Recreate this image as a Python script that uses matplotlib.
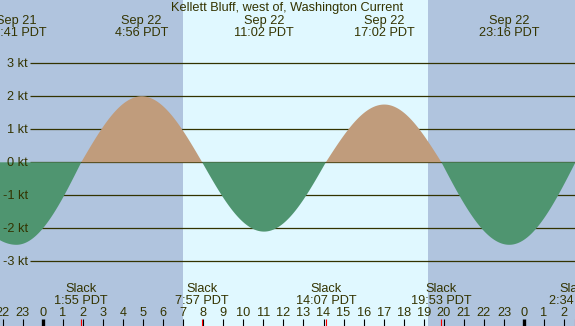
import matplotlib.pyplot as plt
import numpy as np

# Tide current events, hours from Sep 22 00:00 PDT, speed in knots
event_hours = [-5.15, -1.317, 1.917, 4.933, 7.95, 11.033, 14.117, 17.033, 19.883, 23.267, 26.567, 29.6]
event_kt = [0.0, -2.5, 0.0, 2.0, 0.0, -2.1, 0.0, 1.75, 0.0, -2.5, 0.0, 1.8]

# labelled extremes at the top
peak_hours = [-1.317, 4.933, 11.033, 17.033, 23.267]
peak_dates = ['Sep 21', 'Sep 22', 'Sep 22', 'Sep 22', 'Sep 22']
peak_times = ['22:41 PDT', '4:56 PDT', '11:02 PDT', '17:02 PDT', '23:16 PDT']

# slack water labels at the bottom
slack_hours = [1.917, 7.95, 14.117, 19.883, 26.567]
slack_times = ['1:55 PDT', '7:57 PDT', '14:07 PDT', '19:53 PDT', '2:34 PDT']

sunrise = 7.0
sunset = 19.21
grid_kt = [3, 2, 1, 0, -1, -2, -3]
hour_ticks = list(range(-2, 27))

# colours
night_col = '#b0c4de'
day_col = '#e0f8ff'
flood_col = '#c09c7c'
ebb_col = '#4f9570'
ink = '#333300'

# pixel geometry -> data limits
px_per_h = 20.05
x0_px = 42.8
px_per_kt = 33.0
y0_px = 162.3
W, H = 575, 326
xlim = (-x0_px / px_per_h, (W - x0_px) / px_per_h)
ylim = (-(H - y0_px) / px_per_kt, y0_px / px_per_kt)

def px_h(x):
    return (x - x0_px) / px_per_h

def px_kt(y):
    return (y0_px - y) / px_per_kt

# curve: quarter sine from slack to extreme and back
t = np.linspace(xlim[0] - 0.1, xlim[1] + 0.1, 1500)
v = np.zeros_like(t)
for i in range(len(event_hours) - 1):
    a, b = event_hours[i], event_hours[i + 1]
    va, vb = event_kt[i], event_kt[i + 1]
    m = (t >= a) & (t <= b)
    f = (t[m] - a) / (b - a)
    if va == 0:
        v[m] = vb * np.sin(np.pi / 2 * f)
    else:
        v[m] = va * np.cos(np.pi / 2 * f)

plt.rcParams['font.family'] = ['Liberation Sans', 'DejaVu Sans']
fs = 9.2
fig = plt.figure(figsize=(W / 100, H / 100), dpi=100)
ax = fig.add_axes([0, 0, 1, 1])
ax.set_xlim(*xlim)
ax.set_ylim(*ylim)
ax.set_axis_off()

# night / day background
ax.axvspan(xlim[0], sunrise, color=night_col, lw=0, zorder=0)
ax.axvspan(sunrise, sunset, color=day_col, lw=0, zorder=0)
ax.axvspan(sunset, xlim[1], color=night_col, lw=0, zorder=0)

# grid lines and labels
ax.hlines(grid_kt, px_h(30), xlim[1], color=ink, lw=0.9, zorder=1)
for k in grid_kt:
    ax.text(px_h(28), k - 4 / px_per_kt, f'{k} kt', ha='right', va='baseline',
            fontsize=fs, color=ink)

# current fill
ax.fill_between(t, v, 0, where=v >= 0, interpolate=True, color=flood_col, lw=0, zorder=2)
ax.fill_between(t, v, 0, where=v <= 0, interpolate=True, color=ebb_col, lw=0, zorder=2)

# title and top labels
ax.text(px_h(287), px_kt(11), 'Kellett Bluff, west of, Washington Current',
        ha='center', va='baseline', fontsize=fs, color=ink)
for h, d, s in zip(peak_hours, peak_dates, peak_times):
    ax.text(h, px_kt(24), d, ha='center', va='baseline', fontsize=fs, color=ink)
    ax.text(h, px_kt(36), s, ha='center', va='baseline', fontsize=fs, color=ink)

# slack labels
for h, s in zip(slack_hours, slack_times):
    ax.text(h, px_kt(291.5), 'Slack', ha='center', va='baseline', fontsize=fs, color=ink)
    ax.text(h, px_kt(303.5), s, ha='center', va='baseline', fontsize=fs, color=ink)

# hour ticks
tick_top = px_kt(319)
for h in hour_ticks:
    ax.text(h, px_kt(316), str(h % 24), ha='center', va='baseline', fontsize=fs, color=ink)
    lw = 2.4 if h % 24 == 0 else 0.8
    ax.vlines(h, ylim[0], tick_top, color='black', lw=lw, zorder=3)
ax.vlines(slack_hours, ylim[0], tick_top, color='red', lw=0.8, zorder=3)

fig.savefig('out.png', dpi=100)
